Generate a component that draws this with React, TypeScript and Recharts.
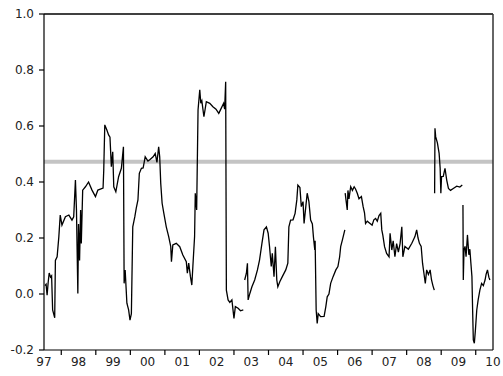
import React from 'react';
import { LineChart, Line, XAxis, YAxis, ReferenceLine } from 'recharts';

// decimal year, value — pieces of the series separated by gaps
const seg97: [number, number][] = [
  [1997.53, 0.03], [1997.56, 0.035], [1997.59, -0.004], [1997.62, 0.04], [1997.65, 0.075],
  [1997.69, 0.06], [1997.72, 0.065], [1997.75, -0.057], [1997.81, -0.085], [1997.83, 0.12],
  [1997.88, 0.133], [1997.93, 0.205], [1997.97, 0.282], [1998.02, 0.246], [1998.12, 0.276],
  [1998.22, 0.282], [1998.31, 0.264], [1998.36, 0.276], [1998.41, 0.407], [1998.44, 0.3],
  [1998.46, 0.15], [1998.48, 0.002], [1998.5, 0.25], [1998.53, 0.12], [1998.56, 0.3],
  [1998.58, 0.18], [1998.62, 0.371], [1998.7, 0.383], [1998.79, 0.4], [1998.89, 0.371],
  [1998.99, 0.348], [1999.06, 0.371], [1999.21, 0.378], [1999.23, 0.443], [1999.26, 0.604],
  [1999.32, 0.586], [1999.37, 0.568], [1999.41, 0.56], [1999.45, 0.455], [1999.49, 0.508],
  [1999.52, 0.383], [1999.58, 0.365], [1999.66, 0.419], [1999.74, 0.449], [1999.8, 0.526],
  [1999.82, 0.038], [1999.85, 0.086], [1999.9, -0.033], [1999.95, -0.057], [1999.99, -0.093],
  [2000.03, -0.07], [2000.07, 0.24], [2000.13, 0.276], [2000.17, 0.306], [2000.22, 0.336],
  [2000.26, 0.431], [2000.32, 0.449], [2000.37, 0.45], [2000.43, 0.49], [2000.51, 0.475],
  [2000.57, 0.48], [2000.66, 0.49], [2000.72, 0.502], [2000.77, 0.47], [2000.82, 0.526],
  [2000.85, 0.49], [2000.88, 0.395], [2000.92, 0.324], [2000.97, 0.288], [2001.04, 0.24],
  [2001.11, 0.205], [2001.17, 0.169], [2001.19, 0.115], [2001.23, 0.175], [2001.33, 0.181],
  [2001.43, 0.169], [2001.52, 0.139], [2001.62, 0.115], [2001.65, 0.074], [2001.69, 0.11],
  [2001.74, 0.062], [2001.78, 0.032], [2001.81, 0.098], [2001.86, 0.205], [2001.88, 0.36],
  [2001.92, 0.3], [2001.96, 0.657], [2002.01, 0.729], [2002.04, 0.681], [2002.07, 0.69],
  [2002.13, 0.633], [2002.2, 0.687], [2002.3, 0.681], [2002.39, 0.669], [2002.48, 0.66],
  [2002.56, 0.645], [2002.63, 0.663], [2002.7, 0.681], [2002.73, 0.66], [2002.76, 0.758],
  [2002.78, 0.014], [2002.83, -0.021], [2002.88, -0.03], [2002.94, -0.021], [2003.0, -0.087],
  [2003.04, -0.045], [2003.12, -0.051], [2003.19, -0.06], [2003.27, -0.057],
];

const seg03: [number, number][] = [
  [2003.31, 0.05], [2003.36, 0.074], [2003.39, 0.11], [2003.41, -0.021], [2003.46, 0.002],
  [2003.52, 0.026], [2003.6, 0.05], [2003.68, 0.086], [2003.74, 0.121], [2003.81, 0.181],
  [2003.87, 0.229], [2003.94, 0.24], [2003.99, 0.217], [2004.03, 0.169], [2004.08, 0.098],
  [2004.11, 0.145], [2004.16, 0.062], [2004.2, 0.169], [2004.24, 0.05], [2004.27, 0.026],
  [2004.33, 0.045], [2004.4, 0.062], [2004.5, 0.086], [2004.56, 0.11], [2004.59, 0.24],
  [2004.64, 0.264], [2004.71, 0.265], [2004.77, 0.288], [2004.82, 0.336], [2004.85, 0.389],
  [2004.91, 0.38], [2004.95, 0.312], [2005.0, 0.33], [2005.03, 0.252], [2005.08, 0.312],
  [2005.12, 0.36], [2005.17, 0.33], [2005.22, 0.264], [2005.27, 0.25], [2005.3, 0.205],
  [2005.34, 0.157], [2005.35, 0.19], [2005.38, -0.057], [2005.41, -0.105], [2005.44, -0.07],
  [2005.51, -0.081], [2005.61, -0.08], [2005.66, -0.045], [2005.7, -0.01], [2005.75, 0.0],
  [2005.8, 0.038], [2005.87, 0.062], [2005.95, 0.086], [2006.01, 0.098], [2006.06, 0.133],
  [2006.09, 0.169], [2006.14, 0.193], [2006.21, 0.229],
];

const seg06: [number, number][] = [
  [2006.22, 0.36], [2006.25, 0.33], [2006.28, 0.3], [2006.3, 0.37], [2006.33, 0.34],
  [2006.38, 0.383], [2006.43, 0.37], [2006.48, 0.383], [2006.52, 0.375], [2006.57, 0.36],
  [2006.62, 0.34], [2006.69, 0.348], [2006.74, 0.312], [2006.78, 0.29], [2006.81, 0.252],
  [2006.86, 0.26], [2006.94, 0.252], [2007.0, 0.246], [2007.05, 0.265], [2007.1, 0.27],
  [2007.15, 0.26], [2007.2, 0.28], [2007.25, 0.288], [2007.28, 0.229], [2007.31, 0.21],
  [2007.36, 0.169], [2007.42, 0.145], [2007.49, 0.133], [2007.52, 0.217], [2007.57, 0.157],
  [2007.61, 0.19], [2007.66, 0.133], [2007.71, 0.18], [2007.76, 0.15], [2007.81, 0.18],
  [2007.86, 0.24], [2007.89, 0.133], [2007.95, 0.17], [2008.05, 0.16], [2008.15, 0.181],
  [2008.24, 0.205], [2008.29, 0.229], [2008.33, 0.2], [2008.37, 0.181], [2008.42, 0.17],
  [2008.46, 0.11], [2008.5, 0.074], [2008.54, 0.038], [2008.58, 0.086], [2008.63, 0.07],
  [2008.68, 0.086], [2008.72, 0.05], [2008.76, 0.03], [2008.8, 0.014],
];

const seg08: [number, number][] = [
  [2008.81, 0.36], [2008.82, 0.592], [2008.84, 0.562], [2008.89, 0.54], [2008.94, 0.502],
  [2008.97, 0.449], [2008.99, 0.36], [2009.01, 0.419], [2009.06, 0.42], [2009.11, 0.449],
  [2009.16, 0.407], [2009.21, 0.377], [2009.27, 0.37], [2009.35, 0.377], [2009.45, 0.385],
  [2009.54, 0.382], [2009.61, 0.389],
];

const seg09: [number, number][] = [
  [2009.63, 0.318], [2009.64, 0.05], [2009.66, 0.157], [2009.69, 0.17], [2009.72, 0.133],
  [2009.76, 0.211], [2009.8, 0.14], [2009.83, 0.16], [2009.86, 0.11], [2009.89, 0.062],
  [2009.91, -0.057], [2009.93, -0.164], [2009.96, -0.176], [2009.99, -0.13], [2010.03, -0.057],
  [2010.07, -0.021], [2010.12, 0.014], [2010.17, 0.038], [2010.22, 0.03], [2010.27, 0.05],
  [2010.3, 0.07], [2010.34, 0.086], [2010.38, 0.06], [2010.41, 0.05],
];

const avgLevel = 0.472;
const yearStarts = [1998, 1999, 2000, 2001, 2002, 2003, 2004, 2005, 2006, 2007, 2008, 2009, 2010];
const yearMids = [1997.5, 1998.5, 1999.5, 2000.5, 2001.5, 2002.5, 2003.5, 2004.5, 2005.5, 2006.5, 2007.5, 2008.5, 2009.5, 2010.5];
const yTicks = [-0.2, 0, 0.2, 0.4, 0.6, 0.8, 1.0];
const xDomain: [number, number] = [1997.5, 2010.5];
const yDomain: [number, number] = [-0.2, 1.0];

const segments = [seg97, seg03, seg06, seg08, seg09];
const data = segments.flatMap((seg, i) => [
  ...(i > 0 ? [{ t: seg[0][0] - 0.002, v: null as number | null }] : []),
  ...seg.map(([t, v]) => ({ t, v: v as number | null })),
]);
const avgData = [{ t: xDomain[0], v: avgLevel }, { t: xDomain[1], v: avgLevel }];
// tick marks sit at year starts, labels in the middle of each year
const xTicks = [...yearMids, ...yearStarts].sort((a, b) => a - b);

const W = 503;
const H = 376;
const font = { fontFamily: 'DejaVu Sans', fontSize: 12, fill: '#222' };
const blk = { stroke: '#000', strokeWidth: 1.2 };

const YearTick = (props: any) => {
  const { x, y, payload } = props;
  const t = payload.value as number;
  if (Number.isInteger(t)) {
    return <line x1={x} x2={x} y1={y - 7} y2={y - 2} stroke="#000" strokeWidth={1.2} />;
  }
  return (
    <text x={x} y={y} dy="0.71em" textAnchor="middle" {...font}>
      {String(Math.floor(t) % 100).padStart(2, '0')}
    </text>
  );
};

export default function App() {
  return (
    <div style={{ position: 'absolute', left: 0, top: 0, width: W, height: H, background: '#fff' }}>
      {/* series layer */}
      <div style={{ position: 'absolute', left: 0, top: 0 }}>
        <LineChart width={W} height={H} margin={{ top: 14, right: 10, left: 44, bottom: 26 }}>
          <XAxis hide type="number" dataKey="t" domain={xDomain} allowDataOverflow />
          <YAxis hide type="number" domain={yDomain} allowDataOverflow />
          <Line data={avgData} dataKey="v" stroke="#c4c4c4" strokeWidth={4} dot={false} isAnimationActive={false} />
          <Line
            data={data}
            dataKey="v"
            stroke="#000"
            strokeWidth={1.3}
            dot={false}
            connectNulls={false}
            isAnimationActive={false}
          />
        </LineChart>
      </div>
      {/* axes and frame layer, same plot area */}
      <div style={{ position: 'absolute', left: 0, top: 0, pointerEvents: 'none' }}>
        <LineChart width={W} height={H} margin={{ top: 14, right: 10, left: 0, bottom: 0 }}>
          <XAxis
            type="number"
            dataKey="t"
            domain={xDomain}
            allowDataOverflow
            ticks={xTicks}
            interval={0}
            tickSize={5}
            tickMargin={2}
            tickLine={false}
            axisLine={blk}
            tick={<YearTick />}
            height={26}
          />
          <YAxis
            type="number"
            domain={yDomain}
            allowDataOverflow
            ticks={yTicks}
            interval={0}
            width={44}
            tickSize={5}
            tickMargin={5}
            axisLine={blk}
            tickLine={blk}
            tick={font}
            tickFormatter={(v: number) => v.toFixed(1)}
          />
          <Line data={avgData} dataKey="v" stroke="none" dot={false} isAnimationActive={false} />
          <ReferenceLine y={yDomain[1]} stroke="#000" strokeWidth={1.5} />
          <ReferenceLine x={xDomain[1]} stroke="#333" strokeWidth={1.5} />
        </LineChart>
      </div>
    </div>
  );
}
